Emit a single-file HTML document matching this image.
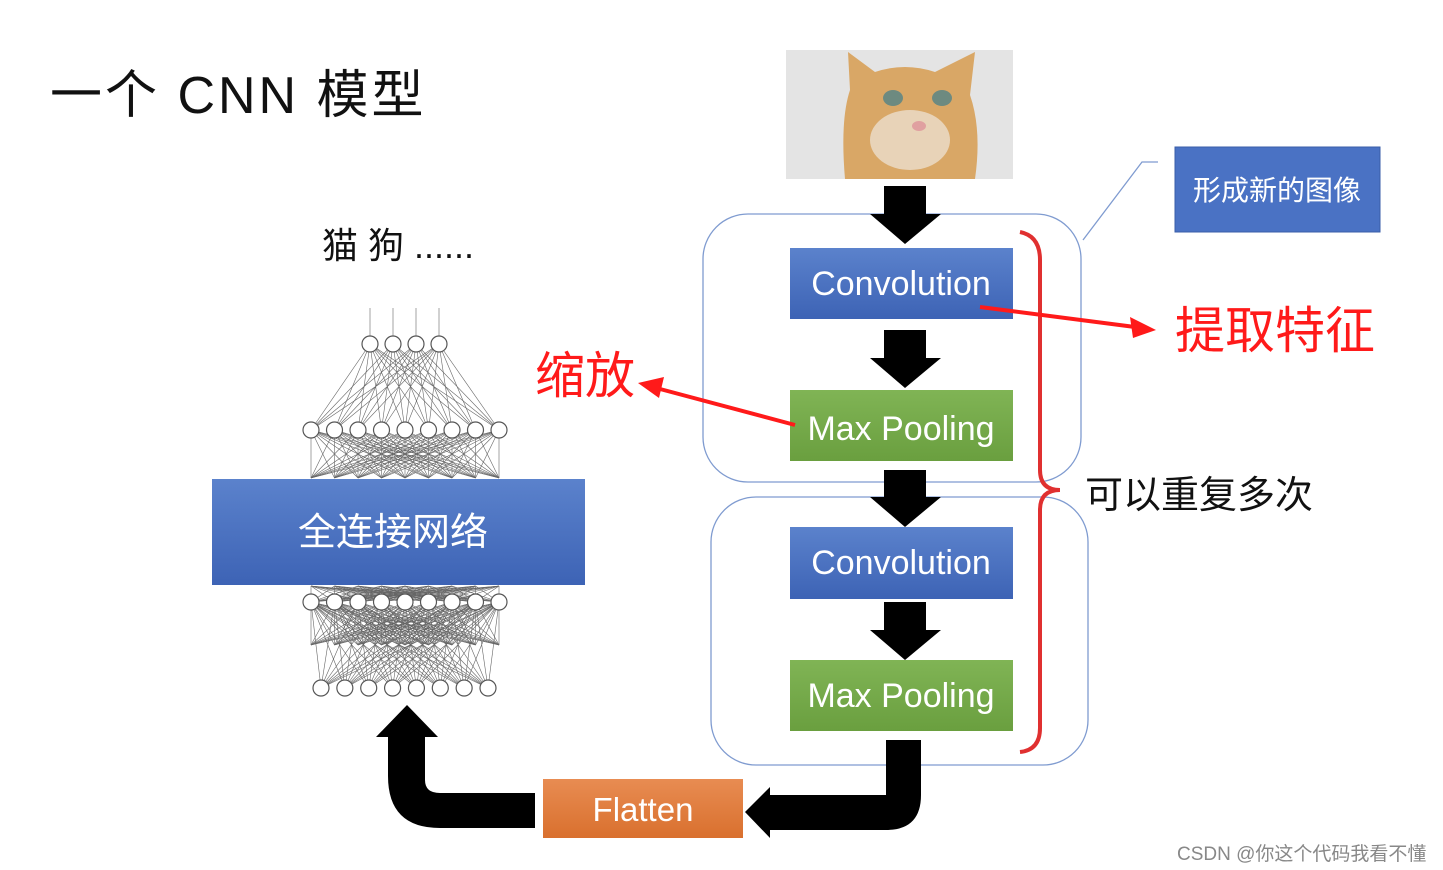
<!DOCTYPE html>
<html><head><meta charset="utf-8">
<style>
html,body{margin:0;padding:0;background:#fff;}
svg{display:block;}
text{font-family:"Liberation Sans","Noto Sans CJK SC",sans-serif;}
</style></head>
<body>
<svg id="s" width="1443" height="870" viewBox="0 0 1443 870" xmlns="http://www.w3.org/2000/svg">
<defs>
<linearGradient id="gb" x1="0" y1="0" x2="0" y2="1"><stop offset="0" stop-color="#5b82cc"/><stop offset="1" stop-color="#3d63b5"/></linearGradient>
<linearGradient id="gg" x1="0" y1="0" x2="0" y2="1"><stop offset="0" stop-color="#80b455"/><stop offset="1" stop-color="#6a9f3f"/></linearGradient>
<linearGradient id="go" x1="0" y1="0" x2="0" y2="1"><stop offset="0" stop-color="#e88c52"/><stop offset="1" stop-color="#d9702e"/></linearGradient>
</defs>

<text x="50" y="113" font-size="52" fill="#111" letter-spacing="3">一个 CNN 模型</text>
<text x="322" y="258" font-size="36" fill="#111">猫 狗 ......</text>

<g id="net" stroke="#666" stroke-width="0.6" fill="none"></g>
<g id="nodes" fill="#fff" stroke="#555" stroke-width="1.2"></g>

<rect x="212" y="479" width="373" height="106" fill="url(#gb)"/>
<text x="393" y="545" font-size="38" fill="#fff" text-anchor="middle">全连接网络</text>

<rect x="786" y="50" width="227" height="129" fill="#e4e4e4"/>
<path d="M845 179 Q840 120 850 90 L848 52 L875 72 Q905 62 935 72 L975 52 L970 95 Q982 130 975 179 Z" fill="#d9a766"/>
<ellipse cx="910" cy="140" rx="40" ry="30" fill="#e8d3b8"/>
<ellipse cx="893" cy="98" rx="10" ry="8" fill="#6d8a80"/>
<ellipse cx="942" cy="98" rx="10" ry="8" fill="#6d8a80"/>
<ellipse cx="919" cy="126" rx="7" ry="5" fill="#e0a0a0"/>

<rect x="703" y="214" width="378" height="268" rx="45" fill="none" stroke="#7f9bd0" stroke-width="1.3"/>
<rect x="711" y="497" width="377" height="268" rx="45" fill="none" stroke="#7f9bd0" stroke-width="1.3"/>

<g fill="#000">
<path d="M884 186 H926 V214 H941 L905 244 L870 214 H884 Z"/>
<path d="M884 330 H926 V358 H941 L905 388 L870 358 H884 Z"/>
<path d="M884 470 H926 V497 H941 L905 527 L870 497 H884 Z"/>
<path d="M884 602 H926 V630 H941 L905 660 L870 630 H884 Z"/>
<path d="M886 740 H921 V795 Q921 830 886 830 H770 V838 L745 812 L770 787 V795 H886 Z"/>
<path d="M535 793 V828 H440 Q388 828 388 776 V737 H376 L407 705 L438 737 H425 V780 Q425 793 440 793 Z"/>
</g>

<rect x="790" y="248" width="223" height="71" fill="url(#gb)"/>
<text x="901" y="295" font-size="34" fill="#fff" text-anchor="middle">Convolution</text>
<rect x="790" y="390" width="223" height="71" fill="url(#gg)"/>
<text x="901" y="440" font-size="34" fill="#fff" text-anchor="middle">Max Pooling</text>
<rect x="790" y="527" width="223" height="72" fill="url(#gb)"/>
<text x="901" y="574" font-size="34" fill="#fff" text-anchor="middle">Convolution</text>
<rect x="790" y="660" width="223" height="71" fill="url(#gg)"/>
<text x="901" y="707" font-size="34" fill="#fff" text-anchor="middle">Max Pooling</text>
<rect x="543" y="779" width="200" height="59" fill="url(#go)"/>
<text x="643" y="821" font-size="33" fill="#fff" text-anchor="middle">Flatten</text>

<path d="M1083 240 L1142 162 H1158" fill="none" stroke="#7f9bd0" stroke-width="1.3"/>
<rect x="1175" y="147" width="205" height="85" fill="#4a72c4" stroke="#3a5ea8"/>
<text x="1277" y="200" font-size="28" fill="#fff" text-anchor="middle">形成新的图像</text>

<path d="M1020 232 Q1040 236 1040 260 V470 Q1040 490 1060 490 Q1040 490 1040 510 V728 Q1040 750 1020 752" fill="none" stroke="#e03030" stroke-width="4"/>

<line x1="980" y1="307" x2="1135" y2="327" stroke="#ff1a1a" stroke-width="4"/>
<path d="M1156 330 L1130 317 L1133 338 Z" fill="#ff1a1a"/>
<line x1="795" y1="425" x2="660" y2="389" stroke="#ff1a1a" stroke-width="4"/>
<path d="M638 383 L664 377 L659 398 Z" fill="#ff1a1a"/>

<text x="535" y="393" font-size="50" fill="#ff1a1a">缩放</text>
<text x="1175" y="348" font-size="50" fill="#ff1a1a">提取特征</text>
<text x="1085" y="508" font-size="38" fill="#111">可以重复多次</text>

<text x="1177" y="860" font-size="19" fill="#888">CSDN @你这个代码我看不懂</text>
</svg>
<script>
(function(){
var ns="http://www.w3.org/2000/svg",net=document.getElementById('net'),nd=document.getElementById('nodes');
function xs(n,a,b){var r=[];for(var i=0;i<n;i++)r.push(a+(b-a)*i/(n-1));return r;}
var L0=xs(4,370,439),L1=xs(9,311,499),L1b=xs(9,311,499),L2=xs(9,311,499),L3=xs(8,321,488);
function ln(x1,y1,x2,y2){var l=document.createElementNS(ns,'line');l.setAttribute('x1',x1);l.setAttribute('y1',y1);l.setAttribute('x2',x2);l.setAttribute('y2',y2);net.appendChild(l);}
function con(A,ya,B,yb){A.forEach(function(a){B.forEach(function(b){ln(a,ya,b,yb);});});}
con(L0,344,L1,430);con(L1,430,L1b,478);con(L1b,586,L2,602);con(L2,602,L3,688);
con(xs(9,311,499),602,xs(9,311,499),645);
L0.forEach(function(x){ln(x,344,x,308);});
function circ(X,y,r){X.forEach(function(x){var c=document.createElementNS(ns,'circle');c.setAttribute('cx',x);c.setAttribute('cy',y);c.setAttribute('r',r);nd.appendChild(c);});}
circ(L0,344,8);circ(L1,430,8);circ(L2,602,8);circ(L3,688,8);
})();
</script>
</body></html>
